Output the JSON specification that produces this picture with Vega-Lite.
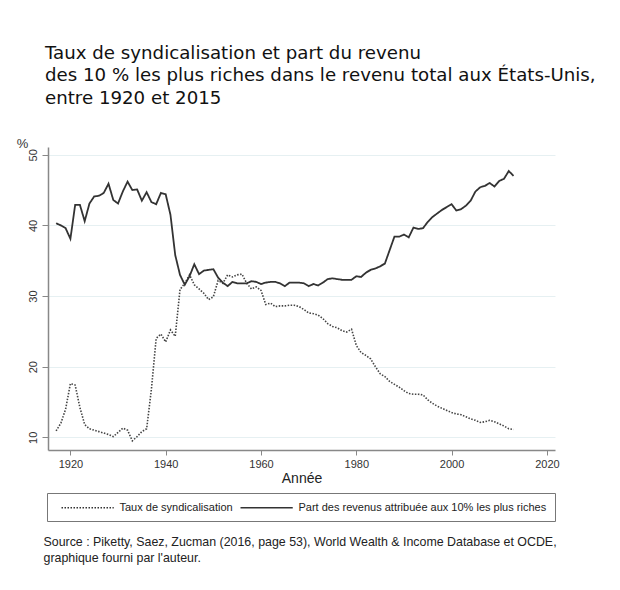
{
  "$schema": "https://vega.github.io/schema/vega-lite/v6.json",
  "autosize": {"type": "none"},
  "width": 507,
  "height": 303,
  "padding": {"left": 48, "top": 147, "right": 65, "bottom": 140},
  "background": "white",
  "title": {
    "text": ["Taux de syndicalisation et part du revenu", "des 10 % les plus riches dans le revenu total aux États-Unis,", "entre 1920 et 2015"],
    "anchor": "start",
    "frame": "group",
    "font": "DejaVu Sans",
    "fontSize": 18.2,
    "fontWeight": "normal",
    "color": "#111",
    "lineHeight": 22.5,
    "offset": 29,
    "dx": -3
  },
  "config": {"view": {"stroke": null}, "font": "Liberation Sans"},
  "data": {"values": [
    {"annee":1917,"syndic":10.9,"top10":40.3},
    {"annee":1918,"syndic":12.0,"top10":40.0},
    {"annee":1919,"syndic":14.0,"top10":39.6},
    {"annee":1920,"syndic":17.6,"top10":38.1},
    {"annee":1921,"syndic":17.4,"top10":42.9},
    {"annee":1922,"syndic":14.2,"top10":42.9},
    {"annee":1923,"syndic":11.8,"top10":40.6},
    {"annee":1924,"syndic":11.2,"top10":43.1},
    {"annee":1925,"syndic":11.0,"top10":44.1},
    {"annee":1926,"syndic":10.8,"top10":44.2},
    {"annee":1927,"syndic":10.6,"top10":44.6},
    {"annee":1928,"syndic":10.4,"top10":45.9},
    {"annee":1929,"syndic":10.1,"top10":43.6},
    {"annee":1930,"syndic":10.7,"top10":43.1},
    {"annee":1931,"syndic":11.3,"top10":44.8},
    {"annee":1932,"syndic":11.0,"top10":46.2},
    {"annee":1933,"syndic":9.5,"top10":45.0},
    {"annee":1934,"syndic":10.1,"top10":45.1},
    {"annee":1935,"syndic":10.8,"top10":43.5},
    {"annee":1936,"syndic":11.2,"top10":44.7},
    {"annee":1937,"syndic":16.8,"top10":43.3},
    {"annee":1938,"syndic":24.0,"top10":43.0},
    {"annee":1939,"syndic":24.6,"top10":44.6},
    {"annee":1940,"syndic":23.5,"top10":44.4},
    {"annee":1941,"syndic":25.2,"top10":41.5},
    {"annee":1942,"syndic":24.3,"top10":35.8},
    {"annee":1943,"syndic":30.9,"top10":33.0},
    {"annee":1944,"syndic":31.8,"top10":31.6},
    {"annee":1945,"syndic":33.0,"top10":32.8},
    {"annee":1946,"syndic":31.6,"top10":34.5},
    {"annee":1947,"syndic":31.0,"top10":33.1},
    {"annee":1948,"syndic":30.4,"top10":33.6},
    {"annee":1949,"syndic":29.5,"top10":33.7},
    {"annee":1950,"syndic":29.9,"top10":33.8},
    {"annee":1951,"syndic":32.2,"top10":32.6},
    {"annee":1952,"syndic":31.8,"top10":31.9},
    {"annee":1953,"syndic":33.0,"top10":31.4},
    {"annee":1954,"syndic":32.7,"top10":32.0},
    {"annee":1955,"syndic":33.0,"top10":31.8},
    {"annee":1956,"syndic":33.1,"top10":31.8},
    {"annee":1957,"syndic":31.8,"top10":31.8},
    {"annee":1958,"syndic":31.0,"top10":32.1},
    {"annee":1959,"syndic":31.3,"top10":32.0},
    {"annee":1960,"syndic":30.8,"top10":31.7},
    {"annee":1961,"syndic":28.8,"top10":31.9},
    {"annee":1962,"syndic":29.0,"top10":32.0},
    {"annee":1963,"syndic":28.5,"top10":32.0},
    {"annee":1964,"syndic":28.6,"top10":31.8},
    {"annee":1965,"syndic":28.6,"top10":31.4},
    {"annee":1966,"syndic":28.7,"top10":31.9},
    {"annee":1967,"syndic":28.7,"top10":31.9},
    {"annee":1968,"syndic":28.5,"top10":31.9},
    {"annee":1969,"syndic":28.1,"top10":31.8},
    {"annee":1970,"syndic":27.6,"top10":31.4},
    {"annee":1971,"syndic":27.5,"top10":31.7},
    {"annee":1972,"syndic":27.3,"top10":31.5},
    {"annee":1973,"syndic":26.8,"top10":31.9},
    {"annee":1974,"syndic":26.1,"top10":32.4},
    {"annee":1975,"syndic":25.7,"top10":32.5},
    {"annee":1976,"syndic":25.5,"top10":32.4},
    {"annee":1977,"syndic":25.1,"top10":32.3},
    {"annee":1978,"syndic":24.9,"top10":32.3},
    {"annee":1979,"syndic":25.3,"top10":32.3},
    {"annee":1980,"syndic":23.0,"top10":32.8},
    {"annee":1981,"syndic":22.0,"top10":32.7},
    {"annee":1982,"syndic":21.6,"top10":33.3},
    {"annee":1983,"syndic":21.1,"top10":33.7},
    {"annee":1984,"syndic":20.0,"top10":33.9},
    {"annee":1985,"syndic":19.0,"top10":34.2},
    {"annee":1986,"syndic":18.6,"top10":34.6},
    {"annee":1987,"syndic":17.9,"top10":36.5},
    {"annee":1988,"syndic":17.5,"top10":38.4},
    {"annee":1989,"syndic":17.1,"top10":38.4},
    {"annee":1990,"syndic":16.6,"top10":38.7},
    {"annee":1991,"syndic":16.2,"top10":38.3},
    {"annee":1992,"syndic":16.1,"top10":39.7},
    {"annee":1993,"syndic":16.1,"top10":39.5},
    {"annee":1994,"syndic":16.0,"top10":39.6},
    {"annee":1995,"syndic":15.3,"top10":40.5},
    {"annee":1996,"syndic":14.8,"top10":41.2},
    {"annee":1997,"syndic":14.4,"top10":41.7},
    {"annee":1998,"syndic":14.1,"top10":42.2},
    {"annee":1999,"syndic":13.8,"top10":42.6},
    {"annee":2000,"syndic":13.5,"top10":43.0},
    {"annee":2001,"syndic":13.3,"top10":42.1},
    {"annee":2002,"syndic":13.2,"top10":42.3},
    {"annee":2003,"syndic":12.9,"top10":42.8},
    {"annee":2004,"syndic":12.6,"top10":43.5},
    {"annee":2005,"syndic":12.4,"top10":44.8},
    {"annee":2006,"syndic":12.1,"top10":45.4},
    {"annee":2007,"syndic":12.2,"top10":45.6},
    {"annee":2008,"syndic":12.4,"top10":46.0},
    {"annee":2009,"syndic":12.2,"top10":45.5},
    {"annee":2010,"syndic":11.9,"top10":46.3},
    {"annee":2011,"syndic":11.6,"top10":46.6},
    {"annee":2012,"syndic":11.2,"top10":47.7},
    {"annee":2013,"syndic":11.1,"top10":47.0}
  ]},
  "layer": [
    {
      "mark": {"type": "line", "stroke": "#444", "strokeWidth": 1.6, "strokeCap": "butt"},
      "encoding": {
        "x": {
          "field": "annee", "type": "quantitative",
          "scale": {"domain": [1915.3, 2021.7], "nice": false, "zero": false},
          "axis": {
            "orient": "bottom",
            "values": [1920, 1940, 1960, 1980, 2000, 2020], "format": "d",
            "title": "Année", "titleFontSize": 14, "titleFontWeight": "normal", "titleColor": "#222", "titlePadding": 2,
            "labelFontSize": 11, "labelColor": "#333", "labelPadding": 3, "labelFlush": false,
            "tickSize": 5, "tickColor": "#888", "domainColor": "#888", "domainWidth": 1.5, "grid": false
          }
        },
        "y": {
          "field": "syndic", "type": "quantitative",
          "scale": {"domain": [8.2, 51.1], "nice": false, "zero": false},
          "axis": {
            "values": [10, 20, 30, 40, 50], "title": "%", "titleAngle": 0, "titleX": -26, "titleY": -4,
            "titleAlign": "center", "titleBaseline": "middle", "titleFontSize": 13, "titleFontWeight": "normal", "titleColor": "#333",
            "labelAngle": -90, "labelAlign": "center", "labelBaseline": "bottom", "labelPadding": 4,
            "labelFontSize": 11, "labelColor": "#333", "tickSize": 6, "tickColor": "#888",
            "domainColor": "#888", "domainWidth": 1.5, "gridColor": "#e6f0f2", "gridWidth": 1
          }
        },
        "strokeDash": {
          "datum": "Taux de syndicalisation", "type": "nominal",
          "scale": {"domain": ["Taux de syndicalisation", "Part des revenus attribuée aux 10% les plus riches"], "range": [[1.5, 1.5], [1, 0]]},
          "legend": {
            "orient": "none", "legendX": -1, "legendY": 346, "direction": "horizontal", "title": null,
            "strokeColor": "#777", "padding": 8, "symbolType": "M0,0H9.5", "symbolSize": 121,
            "symbolStrokeWidth": 1.6, "symbolStrokeColor": "#333", "labelFontSize": 11, "labelFont": "Liberation Sans",
            "labelColor": "#222", "labelLimit": 400, "columnPadding": 1, "labelOffset": 51.5
          }
        }
      }
    },
    {
      "mark": {"type": "line", "stroke": "#333", "strokeWidth": 1.8},
      "encoding": {
        "x": {
          "field": "annee", "type": "quantitative",
          "scale": {"domain": [1915.3, 2021.7], "nice": false, "zero": false},
          "axis": {
            "orient": "bottom",
            "title": ["Source : Piketty, Saez, Zucman (2016, page 53), World Wealth & Income Database et OCDE,", "graphique fourni par l'auteur."],
            "labels": false, "ticks": false, "domain": false, "grid": false,
            "titleFont": "Liberation Sans", "titleFontSize": 12.4, "titleFontWeight": "normal", "titleColor": "#222",
            "titleAnchor": "start", "titleAlign": "left", "titleBaseline": "top", "titleX": -5, "titleY": 85,
            "titleLineHeight": 16, "titleLimit": 700
          }
        },
        "y": {
          "field": "top10", "type": "quantitative",
          "scale": {"domain": [8.2, 51.1], "nice": false, "zero": false},
          "axis": {
            "values": [10, 20, 30, 40, 50], "title": "%", "titleAngle": 0, "titleX": -26, "titleY": -4,
            "titleAlign": "center", "titleBaseline": "middle", "titleFontSize": 13, "titleFontWeight": "normal", "titleColor": "#333",
            "labelAngle": -90, "labelAlign": "center", "labelBaseline": "bottom", "labelPadding": 4,
            "labelFontSize": 11, "labelColor": "#333", "tickSize": 6, "tickColor": "#888",
            "domainColor": "#888", "domainWidth": 1.5, "gridColor": "#e6f0f2", "gridWidth": 1
          }
        },
        "strokeDash": {"datum": "Part des revenus attribuée aux 10% les plus riches", "type": "nominal"}
      }
    }
  ],
  "resolve": {"scale": {"x": "independent"}}
}
